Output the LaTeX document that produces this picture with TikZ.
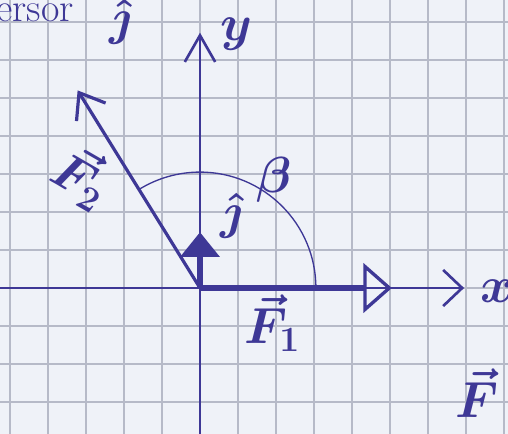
\documentclass[tikz,border=0pt]{standalone}
\usepackage{fix-cm}
\usepackage{amsmath,amssymb}
\usepackage{tikz}
\usepackage{xcolor}
\usetikzlibrary{arrows.meta,calc}

\definecolor{ink}{RGB}{62,56,150}
\definecolor{paper}{RGB}{239,242,248}
\definecolor{gridline}{RGB}{182,186,200}

\tikzset{
  axisline/.style={ink,line width=2pt},
  vecline/.style={ink,line width=4pt},
  handtext/.style={ink,inner sep=1pt,font=\fontsize{38}{40}\selectfont\boldmath},
  notetext/.style={ink,inner sep=1pt,font=\fontsize{30}{32}\selectfont},
}

\begin{document}
\begin{tikzpicture}[x=1cm,y=1cm]
  % --- squared paper, one square = 1 unit ---
  \useasboundingbox (-5.263,-3.842) rectangle (8.105,7.579);
  \clip (-5.263,-3.842) rectangle (8.105,7.579);
  \fill[paper] (-5.263,-3.842) rectangle (8.105,7.579);
  \foreach \x in {-5,...,8}
    \draw[gridline,line width=0.9pt] (\x,-4) -- (\x,8);
  \foreach \y in {-3,...,7}
    \draw[gridline,line width=0.9pt] (-6,\y) -- (9,\y);
  % --- points ---
  \coordinate (O) at (0,0);
  \coordinate (xstart) at (-5.3,0);
  \coordinate (xend) at (6.95,0);
  \coordinate (ystart) at (0,-3.9);
  \coordinate (yend) at (0,6.72);
  \coordinate (F1tip) at (5.05,0);
  \coordinate (jtip) at (0,1.47);
  \coordinate (F2tip) at (-3.22,5.2);
  \coordinate (arcstart) at (3.05,0);
  % axes
  \draw[axisline,-{Straight Barb[length=0.5cm,width=0.95cm]}] (xstart) -- (xend);
  \draw[axisline,-{Straight Barb[length=0.7cm,width=0.8cm]}] (ystart) -- (yend);
  % angle beta
  \draw[ink,line width=1pt] (arcstart) arc[start angle=0,end angle=121.5,radius=3.05];
  % vectors
  \draw[ink,line width=2.4pt,-{Straight Barb[length=0.6cm,width=0.9cm]}] (O) -- (F2tip);
  \draw[vecline,-{Triangle[open,line width=2.5pt,length=0.75cm,width=1.3cm]}] (O) -- (F1tip);
  \draw[vecline,line width=5pt,-{Triangle[length=0.65cm,width=1cm]}] (O) -- (jtip);
  % labels
  \node[handtext] (ylab) at (0.97,6.68) {$y$};
  \node[handtext] (xlab) at (7.82,-0.08) {$x$};
  \node[handtext] (F1lab) at (1.9,-0.92) {$\vec{F}_1$};
  \node[handtext,rotate=-30] (F2lab) at (-3.1,2.95) {$\vec{F}_2$};
  \node[handtext] (jlab) at (0.84,1.9) {$\hat{\jmath}$};
  \node[handtext] (betalab) at (1.95,2.85) {$\beta$};
  % cut-off notes at the paper edges
  \node[notetext,anchor=base east] (versor) at (-3.28,7.0) {versor};
  \node[handtext,anchor=base] (jtop) at (-2.1,6.66) {$\hat{\jmath}$};
  \node[handtext,anchor=north west] (Fcorner) at (6.68,-2.08) {$\vec{F}$};
\end{tikzpicture}
\end{document}
